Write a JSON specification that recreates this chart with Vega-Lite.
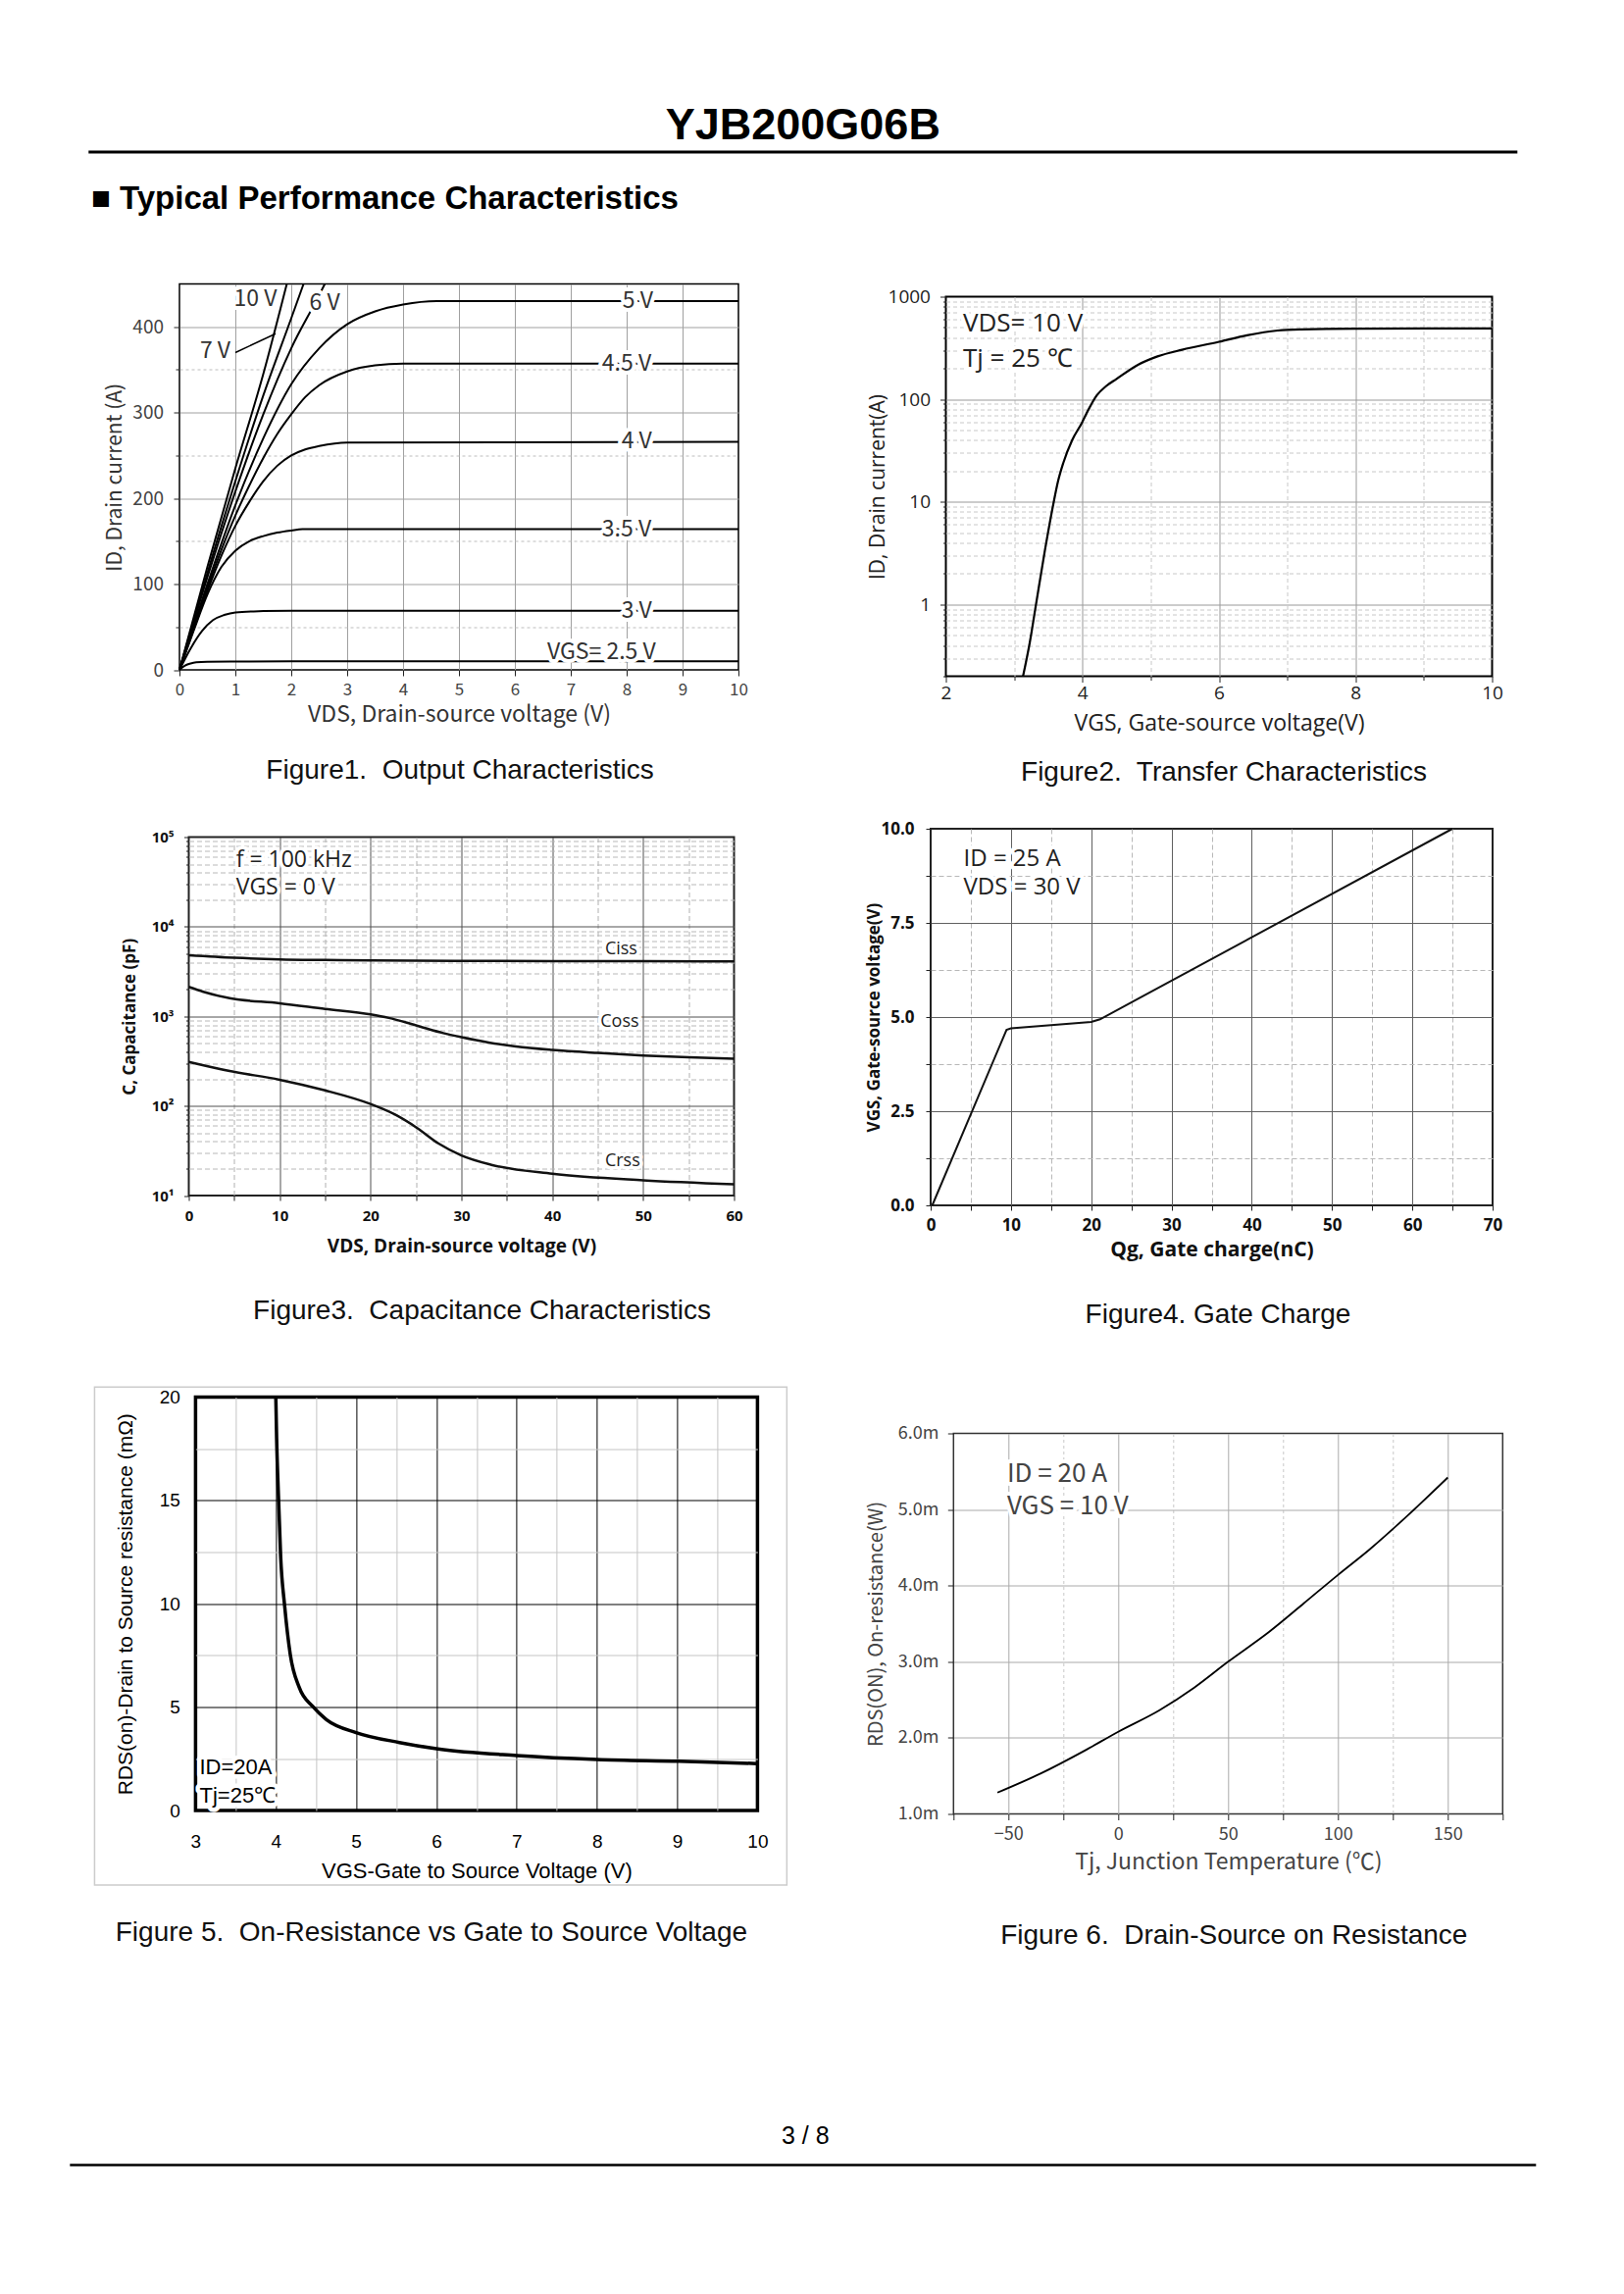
{
"$schema": "https://vega.github.io/schema/vega-lite/v6.json",
"background": "white",
"padding": {"left": 70, "top": 105, "right": 5, "bottom": 5},
"config": {
  "view": {"stroke": null},
  "axis": {"labelOverlap": false, "labelFlush": false, "labelBound": false, "domain": false, "grid": true, "ticks": true, "titleFontWeight": "normal", "tickColor": "#222"}
},
"datasets": {
  "f1": [
    {"s":"2.5","x":0,"y":0},{"s":"2.5","x":0.1,"y":5},{"s":"2.5","x":0.2,"y":7.5},{"s":"2.5","x":0.3,"y":8.8},{"s":"2.5","x":0.5,"y":9.5},{"s":"2.5","x":1,"y":9.8},{"s":"2.5","x":2,"y":10},{"s":"2.5","x":10,"y":10},
    {"s":"3","x":0,"y":0},{"s":"3","x":0.2,"y":25},{"s":"3","x":0.4,"y":45},{"s":"3","x":0.6,"y":58},{"s":"3","x":0.8,"y":64},{"s":"3","x":1,"y":67},{"s":"3","x":1.5,"y":68.5},{"s":"3","x":2,"y":69},{"s":"3","x":10,"y":69},
    {"s":"3.5","x":0,"y":0},{"s":"3.5","x":0.25,"y":45},{"s":"3.5","x":0.5,"y":88},{"s":"3.5","x":0.75,"y":120},{"s":"3.5","x":1,"y":139},{"s":"3.5","x":1.25,"y":150},{"s":"3.5","x":1.5,"y":156},{"s":"3.5","x":1.75,"y":160},{"s":"3.5","x":2,"y":162.5},{"s":"3.5","x":2.2,"y":164},{"s":"3.5","x":10,"y":164},
    {"s":"4","x":0,"y":0},{"s":"4","x":0.25,"y":47},{"s":"4","x":0.5,"y":92},{"s":"4","x":0.75,"y":133},{"s":"4","x":1,"y":168},{"s":"4","x":1.25,"y":196},{"s":"4","x":1.5,"y":220},{"s":"4","x":1.75,"y":238},{"s":"4","x":2,"y":250},{"s":"4","x":2.25,"y":257},{"s":"4","x":2.5,"y":261},{"s":"4","x":3,"y":265},{"s":"4","x":10,"y":266},
    {"s":"4.5","x":0,"y":0},{"s":"4.5","x":0.5,"y":96},{"s":"4.5","x":0.75,"y":140},{"s":"4.5","x":1,"y":180},{"s":"4.5","x":1.25,"y":215},{"s":"4.5","x":1.5,"y":247},{"s":"4.5","x":1.75,"y":275},{"s":"4.5","x":2,"y":298},{"s":"4.5","x":2.25,"y":318},{"s":"4.5","x":2.5,"y":332},{"s":"4.5","x":3,"y":348},{"s":"4.5","x":3.5,"y":355},{"s":"4.5","x":4,"y":357},{"s":"4.5","x":10,"y":357},
    {"s":"5","x":0,"y":0},{"s":"5","x":0.5,"y":100},{"s":"5","x":1,"y":192},{"s":"5","x":1.5,"y":270},{"s":"5","x":2,"y":333},{"s":"5","x":2.5,"y":375},{"s":"5","x":3,"y":403},{"s":"5","x":3.5,"y":418},{"s":"5","x":4,"y":426},{"s":"5","x":4.6,"y":430},{"s":"5","x":10,"y":430},
    {"s":"6","x":0,"y":0},{"s":"6","x":0.5,"y":108},{"s":"6","x":1,"y":208},{"s":"6","x":1.5,"y":298},{"s":"6","x":2,"y":375},{"s":"6","x":2.5,"y":437},{"s":"6","x":2.6,"y":450},
    {"s":"7","x":0,"y":0},{"s":"7","x":0.5,"y":113},{"s":"7","x":1,"y":220},{"s":"7","x":1.5,"y":320},{"s":"7","x":2,"y":410},{"s":"7","x":2.22,"y":450},
    {"s":"10","x":0,"y":0},{"s":"10","x":0.5,"y":120},{"s":"10","x":1,"y":235},{"s":"10","x":1.5,"y":345},{"s":"10","x":1.92,"y":450}
  ],
  "f1arrow": [{"x":1.0,"y":370},{"x":1.72,"y":392}],
  "f1lab": [
    {"t":"10 V","x":1.36,"y":432},{"t":"6 V","x":2.6,"y":428},{"t":"7 V","x":0.64,"y":372},
    {"t":"5 V","x":8.2,"y":430},{"t":"4.5 V","x":8.0,"y":357},{"t":"4 V","x":8.18,"y":266},
    {"t":"3.5 V","x":8.0,"y":164},{"t":"3 V","x":8.18,"y":69},{"t":"VGS= 2.5 V","x":7.55,"y":21}
  ],
  "f2": [
    {"x":3.13,"y":0.2},{"x":3.23,"y":0.43},{"x":3.32,"y":1},{"x":3.45,"y":3.35},{"x":3.58,"y":10},{"x":3.64,"y":15.6},{"x":3.72,"y":24},{"x":3.85,"y":40},{"x":3.99,"y":58.6},{"x":4.1,"y":82},{"x":4.21,"y":109},{"x":4.35,"y":135},{"x":4.5,"y":158},{"x":4.82,"y":218},{"x":5.1,"y":262},{"x":5.46,"y":304},{"x":6.0,"y":363},{"x":6.41,"y":420},{"x":6.86,"y":468},{"x":7.2,"y":480},{"x":8.0,"y":488},{"x":10,"y":490}
  ],
  "f2lab": [{"t":"VDS= 10 V","x":2.25,"y":540},{"t":"Tj = 25 ℃","x":2.25,"y":245}],
  "f3": [
    {"s":"Ciss","x":0,"y":4800},{"s":"Ciss","x":5,"y":4500},{"s":"Ciss","x":10,"y":4320},{"s":"Ciss","x":15,"y":4250},{"s":"Ciss","x":20,"y":4200},{"s":"Ciss","x":30,"y":4150},{"s":"Ciss","x":40,"y":4130},{"s":"Ciss","x":50,"y":4120},{"s":"Ciss","x":60,"y":4100},
    {"s":"Coss","x":0,"y":2130},{"s":"Coss","x":1.6,"y":1880},{"s":"Coss","x":4.5,"y":1590},{"s":"Coss","x":10,"y":1400},{"s":"Coss","x":15,"y":1210},{"s":"Coss","x":20,"y":1050},{"s":"Coss","x":22,"y":960},{"s":"Coss","x":24,"y":850},{"s":"Coss","x":26,"y":740},{"s":"Coss","x":28,"y":650},{"s":"Coss","x":30,"y":585},{"s":"Coss","x":33,"y":510},{"s":"Coss","x":36,"y":460},{"s":"Coss","x":40,"y":421},{"s":"Coss","x":45,"y":390},{"s":"Coss","x":50,"y":366},{"s":"Coss","x":55,"y":350},{"s":"Coss","x":60,"y":336},
    {"s":"Crss","x":0,"y":310},{"s":"Crss","x":4.5,"y":245},{"s":"Crss","x":10,"y":196},{"s":"Crss","x":15,"y":149},{"s":"Crss","x":20,"y":105},{"s":"Crss","x":22.7,"y":80},{"s":"Crss","x":25.1,"y":57},{"s":"Crss","x":27.5,"y":38},{"s":"Crss","x":30,"y":28},{"s":"Crss","x":33.3,"y":22},{"s":"Crss","x":40,"y":17.5},{"s":"Crss","x":50,"y":14.8},{"s":"Crss","x":60,"y":13.4}
  ],
  "f3lab": [{"t":"f = 100 kHz","x":5.2,"y":55000},{"t":"VGS = 0 V","x":5.2,"y":27000}],
  "f3cur": [{"t":"Ciss","x":45.8,"y":5600},{"t":"Coss","x":45.3,"y":870},{"t":"Crss","x":45.8,"y":24}],
  "f4": [{"x":0.2,"y":0},{"x":9.45,"y":4.66},{"x":10,"y":4.70},{"x":20,"y":4.87},{"x":21.1,"y":4.94},{"x":65,"y":10}],
  "f4lab": [{"t":"ID  = 25 A","x":4.1,"y":9.2},{"t":"VDS = 30 V","x":4.1,"y":8.44}],
  "f5": [
    {"x":4.0,"y":20},{"x":4.01,"y":18},{"x":4.03,"y":15.5},{"x":4.06,"y":12.3},{"x":4.11,"y":9.9},{"x":4.18,"y":7.55},{"x":4.29,"y":5.97},{"x":4.46,"y":5.03},{"x":4.63,"y":4.4},{"x":5.0,"y":3.77},{"x":5.54,"y":3.29},{"x":6.02,"y":2.98},{"x":7.0,"y":2.66},{"x":8.0,"y":2.47},{"x":9.02,"y":2.38},{"x":10,"y":2.27}
  ],
  "f5lab": [{"t":"ID=20A","x":3.05,"y":2.11},{"t":"Tj=25℃","x":3.05,"y":0.69}],
  "f6": [
    {"x":-55,"y":1.28},{"x":-35.4,"y":1.53},{"x":-15.4,"y":1.83},{"x":0,"y":2.08},{"x":18.6,"y":2.36},{"x":34.6,"y":2.66},{"x":50,"y":3.0},{"x":68.6,"y":3.39},{"x":84.6,"y":3.77},{"x":100,"y":4.14},{"x":114.6,"y":4.48},{"x":130.6,"y":4.89},{"x":150,"y":5.42}
  ],
  "f6lab": [{"t":"ID = 20 A","x":-50.6,"y":5.46},{"t":"VGS = 10 V","x":-50.6,"y":5.04}]
},
"spacing": 176.5,
"vconcat": [
 {
  "spacing": 29.5,
  "vconcat": [
   {
    "width": 1271.6, "height": 1,
    "title": {"text": "YJB200G06B", "orient": "top", "anchor": "middle", "frame": "group", "fontSize": 45, "font": "Liberation Sans", "fontWeight": "bold", "color": "#000", "offset": 3},
    "data": {"values": [{}]},
    "mark": {"type": "rule", "strokeWidth": 3, "color": "#000"},
    "encoding": {
      "x": {"datum": -0.0729, "type": "quantitative", "scale": {"domain": [0, 1]}, "axis": null},
      "x2": {"datum": 1.0729},
      "y": {"datum": 0, "type": "quantitative", "scale": {"domain": [0, 1]}, "axis": null}}
   },
   {
    "title": {"text": "■ Typical Performance Characteristics", "orient": "top", "anchor": "start", "offset": 65, "dx": -1, "fontSize": 33, "font": "Liberation Sans", "fontWeight": "bold", "color": "#000"},
    "spacing": 76,
    "hconcat": [
     {
      "spacing": 45,
      "vconcat": [
       {
        "width": 570, "height": 393.5,
        "view": {"stroke": "#000", "strokeWidth": 1.5},
        "title": {"text": "Figure1.\u00a0 Output Characteristics", "orient": "bottom", "anchor": "middle", "frame": "group", "offset": 31, "dx": 1, "fontSize": 28, "font": "Liberation Sans", "fontWeight": "normal", "color": "#111"},
        "layer": [
         {"data": {"name": "f1"}, "mark": {"type": "line", "color": "#000", "strokeWidth": 2, "interpolate": "monotone"},
          "encoding": {
           "x": {"field": "x", "type": "quantitative", "scale": {"domain": [0, 10], "nice": false, "zero": false},
             "axis": {"title": "VDS, Drain-source voltage (V)", "values": [0,0.5,1,1.5,2,2.5,3,3.5,4,4.5,5,5.5,6,6.5,7,7.5,8,8.5,9,9.5,10],
               "labelExpr": "datum.value % 1 ? '' : format(datum.value, 'd')",
               "gridColor": {"condition": {"test": "datum.value % 1 != 0", "value": "#bdbdbd"}, "value": "#a0a0a0"},
               "gridDash": {"condition": {"test": "datum.value % 1 != 0", "value": [3, 3]}, "value": []},
               "gridOpacity": {"condition": {"test": "datum.value == 0 || datum.value == 10", "value": 0}, "value": 1},
               "tickSize": {"condition": {"test": "datum.value % 1 != 0", "value": 4}, "value": 6},
               "labelFont": "Noto Sans CJK SC", "labelFontSize": 17, "labelColor": "#444", "labelPadding": 6,
               "titleFont": "Noto Sans CJK SC", "titleFontSize": 23, "titleColor": "#333", "titlePadding": 6.5}},
           "y": {"field": "y", "type": "quantitative", "scale": {"domain": [0, 450], "nice": false},
             "axis": {"title": "ID, Drain current (A)", "values": [0,50,100,150,200,250,300,350,400],
               "labelExpr": "datum.value % 100 ? '' : format(datum.value, 'd')",
               "gridColor": {"condition": {"test": "datum.value % 100 != 0", "value": "#bdbdbd"}, "value": "#a0a0a0"},
               "gridDash": {"condition": {"test": "datum.value % 100 != 0", "value": [3, 3]}, "value": []},
               "gridOpacity": {"condition": {"test": "datum.value == 0", "value": 0}, "value": 1},
               "tickSize": {"condition": {"test": "datum.value % 100 != 0", "value": 4}, "value": 6},
               "labelFont": "Noto Sans CJK SC", "labelFontSize": 19, "labelColor": "#444", "labelPadding": 10.5,
               "titleFont": "Noto Sans CJK SC", "titleFontSize": 21, "titleColor": "#333", "titlePadding": 7.5}},
           "detail": {"field": "s", "type": "nominal"}
          }},
         {"data": {"name": "f1arrow"}, "mark": {"type": "line", "color": "#000", "strokeWidth": 1.5},
          "encoding": {"x": {"field": "x", "type": "quantitative"}, "y": {"field": "y", "type": "quantitative"}}},
         {"data": {"name": "f1lab"},
          "encoding": {"x": {"field": "x", "type": "quantitative"}, "y": {"field": "y", "type": "quantitative"}, "text": {"field": "t", "type": "nominal"}},
          "layer": [
           {"mark": {"type": "text", "font": "Noto Sans CJK SC", "fontSize": 23, "fill": "#fff", "stroke": "#fff", "strokeWidth": 8, "strokeJoin": "round"}},
           {"mark": {"type": "text", "font": "Noto Sans CJK SC", "fontSize": 23, "fill": "#333"}}
          ]}
        ]
       },
       {
        "spacing": 59,
        "vconcat": [
         {
          "spacing": -61.5,
          "hconcat": [
           {"width": 1, "height": 1, "data": {"values": []}, "mark": "point"},
           {
            "width": 556, "height": 365.5,
            "view": {"stroke": "#222", "strokeWidth": 2},
            "title": {"text": "Figure3.\u00a0 Capacitance Characteristics", "orient": "bottom", "anchor": "middle", "frame": "group", "offset": 42.5, "dx": 21, "fontSize": 28, "font": "Liberation Sans", "fontWeight": "normal", "color": "#111"},
            "layer": [
             {"data": {"name": "f3"}, "mark": {"type": "line", "color": "#111", "strokeWidth": 2.5, "interpolate": "monotone"},
              "encoding": {
               "x": {"field": "x", "type": "quantitative", "scale": {"domain": [0, 60], "nice": false, "zero": false},
                 "axis": {"title": "VDS, Drain-source voltage (V)", "values": [0,5,10,15,20,25,30,35,40,45,50,55,60],
                   "labelExpr": "datum.value % 10 ? '' : format(datum.value, 'd')",
                   "gridColor": {"condition": {"test": "datum.value % 10 != 0", "value": "#b0b0b0"}, "value": "#505050"},
                   "gridDash": {"condition": {"test": "datum.value % 10 != 0", "value": [5, 3]}, "value": []},
                   "gridOpacity": {"condition": {"test": "datum.value == 0 || datum.value == 60", "value": 0}, "value": 1},
                   "tickSize": 5,
                   "labelFont": "Open Sans", "labelFontSize": 15, "labelFontWeight": "bold", "labelColor": "#111", "labelPadding": 8,
                   "titleFont": "Open Sans", "titleFontSize": 19, "titleFontWeight": "bold", "titleColor": "#111", "titlePadding": 14.5}},
               "y": {"field": "y", "type": "quantitative", "scale": {"type": "log", "domain": [10, 100000], "nice": false},
                 "axis": {"title": "C, Capacitance (pF)", "values": [10,20,30,40,50,60,70,80,90,100,200,300,400,500,600,700,800,900,1000,2000,3000,4000,5000,6000,7000,8000,9000,10000,20000,30000,40000,50000,60000,70000,80000,90000,100000],
                   "labelExpr": "datum.value == 10 ? '10¹' : datum.value == 100 ? '10²' : datum.value == 1000 ? '10³' : datum.value == 10000 ? '10⁴' : datum.value == 100000 ? '10⁵' : ''",
                   "gridColor": {"condition": {"test": "indexof([10,100,1000,10000,100000], datum.value) < 0", "value": "#b8b8b8"}, "value": "#505050"},
                   "gridDash": {"condition": {"test": "indexof([10,100,1000,10000,100000], datum.value) < 0", "value": [5, 3]}, "value": []},
                   "gridOpacity": {"condition": {"test": "datum.value == 10 || datum.value == 100000", "value": 0}, "value": 1},
                   "tickSize": {"condition": {"test": "indexof([10,100,1000,10000,100000], datum.value) < 0", "value": 3}, "value": 5},
                   "labelFont": "Open Sans", "labelFontSize": 15, "labelFontWeight": "bold", "labelColor": "#111", "labelPadding": 10.5,
                   "titleFont": "Open Sans", "titleFontSize": 17, "titleFontWeight": "bold", "titleColor": "#111", "titlePadding": 12.5}},
               "detail": {"field": "s", "type": "nominal"}
              }},
             {"data": {"name": "f3lab"},
              "encoding": {"x": {"field": "x", "type": "quantitative"}, "y": {"field": "y", "type": "quantitative"}, "text": {"field": "t", "type": "nominal"}},
              "layer": [
               {"mark": {"type": "text", "align": "left", "font": "Open Sans", "fontSize": 23, "fill": "#fff", "stroke": "#fff", "strokeWidth": 7, "strokeJoin": "round"}},
               {"mark": {"type": "text", "align": "left", "font": "Open Sans", "fontSize": 23, "fill": "#222"}}
              ]},
             {"data": {"name": "f3cur"},
              "encoding": {"x": {"field": "x", "type": "quantitative"}, "y": {"field": "y", "type": "quantitative"}, "text": {"field": "t", "type": "nominal"}},
              "layer": [
               {"mark": {"type": "text", "align": "left", "font": "Open Sans", "fontSize": 18, "fill": "#fff", "stroke": "#fff", "strokeWidth": 7, "strokeJoin": "round"}},
               {"mark": {"type": "text", "align": "left", "font": "Open Sans", "fontSize": 18, "fill": "#222"}}
              ]}
            ]
           }
          ]
         },
         {
          "spacing": -90.6,
          "hconcat": [
           {"width": 1, "height": 1, "data": {"values": []}, "mark": "point"},
           {
            "width": 573, "height": 421.5,
            "view": {"stroke": "#000", "strokeWidth": 3.5},
            "title": {"text": "Figure 5.\u00a0 On-Resistance vs Gate to Source Voltage", "orient": "bottom", "anchor": "middle", "frame": "group", "offset": 34.5, "dx": -46, "fontSize": 28, "font": "Liberation Sans", "fontWeight": "normal", "color": "#111"},
            "layer": [
             {"data": {"values": [{}]}, "mark": {"type": "rect", "fill": "transparent", "stroke": "#cccccc", "strokeWidth": 1.5},
              "encoding": {"x": {"datum": 1.742, "type": "quantitative"}, "x2": {"datum": 10.366}, "y": {"datum": 20.49, "type": "quantitative"}, "y2": {"datum": -3.61}}},
             {"data": {"name": "f5"}, "mark": {"type": "line", "color": "#000", "strokeWidth": 3.5, "interpolate": "monotone"},
              "encoding": {
               "x": {"field": "x", "type": "quantitative", "scale": {"domain": [3, 10], "nice": false, "zero": false},
                 "axis": {"title": "VGS-Gate to Source Voltage (V)", "values": [3,3.5,4,4.5,5,5.5,6,6.5,7,7.5,8,8.5,9,9.5,10],
                   "labelExpr": "datum.value % 1 ? '' : format(datum.value, 'd')",
                   "gridColor": {"condition": {"test": "datum.value % 1 != 0", "value": "#c4c4c4"}, "value": "#000"},
                   "gridWidth": 1,
                   "gridOpacity": {"condition": {"test": "datum.value == 3 || datum.value == 10", "value": 0}, "value": 1},
                   "ticks": false,
                   "labelFont": "Liberation Sans", "labelFontSize": 19, "labelColor": "#000", "labelPadding": 22,
                   "titleFont": "Liberation Sans", "titleFontSize": 22, "titleColor": "#000", "titlePadding": 10}},
               "y": {"field": "y", "type": "quantitative", "scale": {"domain": [0, 20], "nice": false},
                 "axis": {"title": "RDS(on)-Drain to Source resistance  (mΩ)", "values": [0,2.5,5,7.5,10,12.5,15,17.5,20],
                   "labelExpr": "datum.value % 5 ? '' : format(datum.value, 'd')",
                   "gridColor": {"condition": {"test": "datum.value % 5 != 0", "value": "#c4c4c4"}, "value": "#000"},
                   "gridWidth": 1,
                   "gridOpacity": {"condition": {"test": "datum.value == 0 || datum.value == 20", "value": 0}, "value": 1},
                   "ticks": false,
                   "labelFont": "Liberation Sans", "labelFontSize": 19, "labelColor": "#000", "labelPadding": 16,
                   "titleFont": "Liberation Sans", "titleFontSize": 21, "titleColor": "#000", "titlePadding": 24}}
              }},
             {"data": {"name": "f5lab"},
              "encoding": {"x": {"field": "x", "type": "quantitative"}, "y": {"field": "y", "type": "quantitative"}, "text": {"field": "t", "type": "nominal"}},
              "layer": [
               {"mark": {"type": "text", "align": "left", "font": "Liberation Sans", "fontSize": 22, "fill": "#fff", "stroke": "#fff", "strokeWidth": 9, "strokeJoin": "round"}},
               {"mark": {"type": "text", "align": "left", "font": "Liberation Sans", "fontSize": 22, "fill": "#000"}}
              ]}
            ]
           }
          ]
         }
        ]
       }
      ]
     },
     {
      "spacing": 2,
      "vconcat": [
       {"width": 1, "height": 1, "data": {"values": []}, "mark": "point"},
       {
        "spacing": 31.5,
        "vconcat": [
         {
          "spacing": -66.5,
          "hconcat": [
           {"width": 1, "height": 1, "data": {"values": []}, "mark": "point"},
           {
            "width": 557, "height": 387,
            "view": {"stroke": "#000", "strokeWidth": 2},
            "title": {"text": "Figure2.\u00a0 Transfer Characteristics", "orient": "bottom", "anchor": "middle", "frame": "group", "offset": 24.5, "dx": 5, "fontSize": 28, "font": "Liberation Sans", "fontWeight": "normal", "color": "#111"},
            "layer": [
             {"data": {"name": "f2"}, "mark": {"type": "line", "color": "#000", "strokeWidth": 2.2, "interpolate": "monotone"},
              "encoding": {
               "x": {"field": "x", "type": "quantitative", "scale": {"domain": [2, 10], "nice": false, "zero": false},
                 "axis": {"title": "VGS, Gate-source voltage(V)", "values": [2,3,4,5,6,7,8,9,10],
                   "labelExpr": "datum.value % 2 ? '' : format(datum.value, 'd')",
                   "gridColor": {"condition": {"test": "datum.value % 2 != 0", "value": "#c8c8c8"}, "value": "#999"},
                   "gridDash": {"condition": {"test": "datum.value % 2 != 0", "value": [4, 3]}, "value": []},
                   "gridOpacity": {"condition": {"test": "datum.value == 2 || datum.value == 10", "value": 0}, "value": 1},
                   "tickSize": {"condition": {"test": "datum.value % 2 != 0", "value": 4}, "value": 6},
                   "labelFont": "Open Sans", "labelFontSize": 19, "labelColor": "#222", "labelPadding": 2,
                   "titleFont": "Open Sans", "titleFontSize": 23, "titleColor": "#222", "titlePadding": 10}},
               "y": {"field": "y", "type": "quantitative", "scale": {"type": "log", "domain": [0.2, 1000], "nice": false},
                 "axis": {"title": "ID, Drain current(A)", "values": [0.2,0.3,0.4,0.5,0.6,0.7,0.8,0.9,1,2,3,4,5,6,7,8,9,10,20,30,40,50,60,70,80,90,100,200,300,400,500,600,700,800,900,1000],
                   "labelExpr": "indexof([1,10,100,1000], datum.value) >= 0 ? format(datum.value, 'd') : ''",
                   "gridColor": {"condition": {"test": "indexof([1,10,100,1000], datum.value) < 0", "value": "#c8c8c8"}, "value": "#999"},
                   "gridDash": {"condition": {"test": "indexof([1,10,100,1000], datum.value) < 0", "value": [4, 3]}, "value": []},
                   "gridOpacity": {"condition": {"test": "datum.value == 0.2 || datum.value == 1000", "value": 0}, "value": 1},
                   "tickSize": {"condition": {"test": "indexof([1,10,100,1000], datum.value) < 0", "value": 3}, "value": 6},
                   "labelFont": "Open Sans", "labelFontSize": 19, "labelColor": "#222", "labelPadding": 10,
                   "titleFont": "Open Sans", "titleFontSize": 21, "titleColor": "#222", "titlePadding": -0.5}}
              }},
             {"data": {"name": "f2lab"},
              "encoding": {"x": {"field": "x", "type": "quantitative"}, "y": {"field": "y", "type": "quantitative"}, "text": {"field": "t", "type": "nominal"}},
              "layer": [
               {"mark": {"type": "text", "align": "left", "font": "Open Sans", "fontSize": 26, "fill": "#fff", "stroke": "#fff", "strokeWidth": 8, "strokeJoin": "round"}},
               {"mark": {"type": "text", "align": "left", "font": "Open Sans", "fontSize": 26, "fill": "#222"}}
              ]}
            ]
           }
          ]
         },
         {
          "spacing": 95.5,
          "vconcat": [
           {
            "width": 573, "height": 384,
            "view": {"stroke": "#222", "strokeWidth": 2},
            "title": {"text": "Figure4. Gate Charge", "orient": "bottom", "anchor": "middle", "frame": "group", "offset": 42, "dx": 6.5, "fontSize": 28, "font": "Liberation Sans", "fontWeight": "normal", "color": "#111"},
            "layer": [
             {"data": {"name": "f4"}, "mark": {"type": "line", "color": "#111", "strokeWidth": 2, "interpolate": "linear"},
              "encoding": {
               "x": {"field": "x", "type": "quantitative", "scale": {"domain": [0, 70], "nice": false, "zero": false},
                 "axis": {"title": "Qg, Gate charge(nC)", "values": [0,5,10,15,20,25,30,35,40,45,50,55,60,65,70],
                   "labelExpr": "datum.value % 10 ? '' : format(datum.value, 'd')",
                   "gridColor": {"condition": {"test": "datum.value % 10 != 0", "value": "#b8b8b8"}, "value": "#606060"},
                   "gridDash": {"condition": {"test": "datum.value % 10 != 0", "value": [5, 3]}, "value": []},
                   "gridOpacity": {"condition": {"test": "datum.value == 0 || datum.value == 70", "value": 0}, "value": 1},
                   "tickSize": 5,
                   "labelFont": "Open Sans", "labelFontSize": 17, "labelFontWeight": "bold", "labelColor": "#111", "labelPadding": 7.5,
                   "titleFont": "Open Sans", "titleFontSize": 21, "titleFontWeight": "bold", "titleColor": "#111", "titlePadding": 6}},
               "y": {"field": "y", "type": "quantitative", "scale": {"domain": [0, 10], "nice": false},
                 "axis": {"title": "VGS, Gate-source voltage(V)", "values": [0,1.25,2.5,3.75,5,6.25,7.5,8.75,10],
                   "labelExpr": "datum.value % 2.5 ? '' : format(datum.value, '.1f')",
                   "gridColor": {"condition": {"test": "datum.value % 2.5 != 0", "value": "#b8b8b8"}, "value": "#606060"},
                   "gridDash": {"condition": {"test": "datum.value % 2.5 != 0", "value": [5, 3]}, "value": []},
                   "gridOpacity": {"condition": {"test": "datum.value == 0 || datum.value == 10", "value": 0}, "value": 1},
                   "tickSize": 5,
                   "labelFont": "Open Sans", "labelFontSize": 17, "labelFontWeight": "bold", "labelColor": "#111", "labelPadding": 12,
                   "titleFont": "Open Sans", "titleFontSize": 17, "titleFontWeight": "bold", "titleColor": "#111", "titlePadding": -3}}
              }},
             {"data": {"name": "f4lab"},
              "encoding": {"x": {"field": "x", "type": "quantitative"}, "y": {"field": "y", "type": "quantitative"}, "text": {"field": "t", "type": "nominal"}},
              "layer": [
               {"mark": {"type": "text", "align": "left", "font": "Open Sans", "fontSize": 24, "fill": "#fff", "stroke": "#fff", "strokeWidth": 8, "strokeJoin": "round"}},
               {"mark": {"type": "text", "align": "left", "font": "Open Sans", "fontSize": 24, "fill": "#222"}}
              ]}
            ]
           },
           {
            "spacing": -67.7,
            "hconcat": [
             {"width": 1, "height": 1, "data": {"values": []}, "mark": "point"},
             {
              "width": 560, "height": 388,
              "view": {"stroke": "#333", "strokeWidth": 1.5},
              "title": {"text": "Figure 6.\u00a0 Drain-Source on Resistance", "orient": "bottom", "anchor": "middle", "frame": "group", "offset": 49.5, "dx": 6, "fontSize": 28, "font": "Liberation Sans", "fontWeight": "normal", "color": "#111"},
              "layer": [
               {"data": {"name": "f6"}, "mark": {"type": "line", "color": "#000", "strokeWidth": 1.8, "interpolate": "monotone"},
                "encoding": {
                 "x": {"field": "x", "type": "quantitative", "scale": {"domain": [-75, 175], "nice": false, "zero": false},
                   "axis": {"title": "Tj, Junction Temperature (℃)", "values": [-75,-50,-25,0,25,50,75,100,125,150,175],
                     "labelExpr": "datum.value % 50 == 0 ? format(datum.value, 'd') : ''",
                     "gridColor": {"condition": {"test": "datum.value % 50 != 0", "value": "#c8c8c8"}, "value": "#aaa"},
                     "gridDash": {"condition": {"test": "datum.value % 50 != 0", "value": [3, 3]}, "value": []},
                     "gridOpacity": {"condition": {"test": "datum.value == -75 || datum.value == 175", "value": 0}, "value": 1},
                     "tickSize": 6,
                     "labelFont": "Noto Sans CJK SC", "labelFontSize": 18, "labelColor": "#444", "labelPadding": 6,
                     "titleFont": "Noto Sans CJK SC", "titleFontSize": 23, "titleColor": "#444", "titlePadding": 8}},
                 "y": {"field": "y", "type": "quantitative", "scale": {"domain": [1, 6], "nice": false, "zero": false},
                   "axis": {"title": "RDS(ON), On-resistance(W)", "values": [1,1.5,2,2.5,3,3.5,4,4.5,5,5.5,6],
                     "labelExpr": "datum.value % 1 ? '' : format(datum.value, '.1f') + 'm'",
                     "gridColor": {"condition": {"test": "datum.value % 1 != 0", "value": "#c8c8c8"}, "value": "#aaa"},
                     "gridDash": {"condition": {"test": "datum.value % 1 != 0", "value": [3, 3]}, "value": []},
                     "gridOpacity": {"condition": {"test": "datum.value == 1 || datum.value == 6", "value": 0}, "value": 1},
                     "tickSize": {"condition": {"test": "datum.value % 1 != 0", "value": 3}, "value": 6},
                     "labelFont": "Noto Sans CJK SC", "labelFontSize": 18, "labelColor": "#444", "labelPadding": 9.5,
                     "titleFont": "Noto Sans CJK SC", "titleFontSize": 20, "titleColor": "#444", "titlePadding": 11.5}}
                }},
               {"data": {"name": "f6lab"},
                "encoding": {"x": {"field": "x", "type": "quantitative"}, "y": {"field": "y", "type": "quantitative"}, "text": {"field": "t", "type": "nominal"}},
                "layer": [
                 {"mark": {"type": "text", "align": "left", "font": "Noto Sans CJK SC", "fontSize": 26, "fill": "#fff", "stroke": "#fff", "strokeWidth": 8, "strokeJoin": "round"}},
                 {"mark": {"type": "text", "align": "left", "font": "Noto Sans CJK SC", "fontSize": 26, "fill": "#444"}}
                ]}
              ]
             }
            ]
           }
          ]
         }
        ]
       }
      ]
     }
    ]
   }
  ]
 },
 {
  "width": 1271.6, "height": 1,
  "title": {"text": "3 / 8", "orient": "top", "anchor": "middle", "frame": "group", "dx": 2.5, "fontSize": 25, "font": "Liberation Sans", "fontWeight": "normal", "color": "#000", "offset": 15},
  "data": {"values": [{}]},
  "mark": {"type": "rule", "strokeWidth": 2.5, "color": "#000"},
  "encoding": {
    "x": {"datum": -0.08784, "type": "quantitative", "scale": {"domain": [0, 1]}, "axis": null},
    "x2": {"datum": 1.08784},
    "y": {"datum": 0, "type": "quantitative", "scale": {"domain": [0, 1]}, "axis": null}}
 }
]
}
